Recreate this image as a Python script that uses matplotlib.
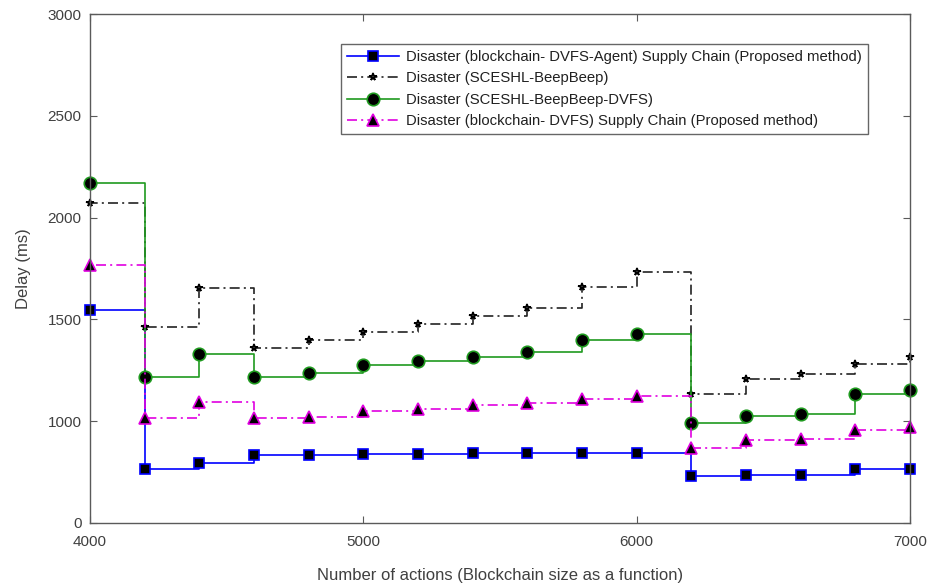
import matplotlib
matplotlib.use("Agg")
import matplotlib.pyplot as plt
from matplotlib.legend_handler import HandlerTuple

plt.rcParams['font.family'] = ['Liberation Sans', 'DejaVu Sans']

# block sizes (first point sits just left of the visible range)
actions = [3800, 4000, 4200, 4400, 4600, 4800, 5000, 5200, 5400,
           5600, 5800, 6000, 6200, 6400, 6600, 6800, 7000]

agent_dvfs = [1176, 1548, 765, 793, 833, 833, 838, 840, 845,
              845, 845, 845, 730, 735, 735, 763, 765]
beepbeep = [2614, 2070, 1462, 1655, 1360, 1398, 1438, 1477, 1517,
            1555, 1658, 1731, 1136, 1207, 1234, 1283, 1315]
beepbeep_dvfs = [1765, 2168, 1216, 1332, 1218, 1239, 1274, 1294, 1317,
                 1342, 1398, 1430, 990, 1026, 1037, 1133, 1152]
chain_dvfs = [1765, 1765, 1016, 1092, 1018, 1021, 1049, 1062, 1078,
              1090, 1108, 1123, 869, 906, 913, 958, 972]

labels = [
    'Disaster (blockchain- DVFS-Agent) Supply Chain (Proposed method)',
    'Disaster (SCESHL-BeepBeep)',
    'Disaster (SCESHL-BeepBeep-DVFS)',
    'Disaster (blockchain- DVFS) Supply Chain (Proposed method)',
]
ytick_vals = [500, 1000, 1500, 2000, 2500, 3000]
ytick_text = ['0', '1000', '1500', '2000', '2500', '3000']
xtick_vals = [4000, 5000, 6000, 7000]

styles = [
    dict(color='#0000ff', ls='-', marker='s', ms=7, mec='#0000ff', mfc='black'),
    dict(color='#222222', ls=(0, (6, 2.5, 1.2, 2.5)), marker='*', ms=5.5,
         mec='black', mfc='white'),
    dict(color='#1f9a1f', ls='-', marker='o', ms=9, mec='#1f9a1f', mfc='black'),
    dict(color='#e000e0', ls=(0, (6, 2.5, 1.2, 2.5)), marker='^', ms=9,
         mec='#e000e0', mfc='black'),
]
series = [agent_dvfs, beepbeep, beepbeep_dvfs, chain_dvfs]

fig = plt.figure(figsize=(9.31, 5.87), dpi=100)
ax = fig.add_axes([90 / 931, 64 / 587, 820 / 931, 509 / 587])

handles = []
for ys, st in zip(series, styles):
    line, = ax.plot(actions, ys, drawstyle='steps-post', ls=st['ls'],
                    color=st['color'], lw=1.2)
    pts, = ax.plot(actions[1:], ys[1:], ls='none', marker=st['marker'],
                   ms=st['ms'], mec=st['mec'], mfc=st['mfc'], mew=1.2,
                   clip_on=False)
    handles.append((line, pts))

ax.set_xlim(4000, 7000)
ax.set_ylim(500, 3000)
ax.set_xticks(xtick_vals)
ax.set_yticks(ytick_vals)
ax.set_yticklabels(ytick_text)

for s in ax.spines.values():
    s.set_color('#5a5a5a')
    s.set_linewidth(1.0)
ax.tick_params(axis='both', direction='in', top=True, right=True,
               length=5, width=0.8, color='#5a5a5a', labelcolor='#404040',
               labelsize=11)
ax.tick_params(axis='x', pad=9)
ax.tick_params(axis='y', pad=6)

ax.set_xlabel('Number of actions (Blockchain size as a function)',
              fontsize=12, color='#404040', labelpad=13)
ax.set_ylabel('Delay (ms)', fontsize=12, color='#404040', labelpad=12)

leg = ax.legend(handles, labels, handler_map={tuple: HandlerTuple(ndivide=1)},
                loc='upper right', bbox_to_anchor=(0.949, 0.941),
                fontsize=10.7, frameon=True, fancybox=False, handlelength=3.5,
                labelspacing=0.5, borderpad=0.4, borderaxespad=0,
                handletextpad=0.5, numpoints=1)
leg.get_frame().set_edgecolor('#404040')
leg.get_frame().set_linewidth(1.0)
for t in leg.get_texts():
    t.set_color('#202020')

fig.savefig('out.png', dpi=100)
